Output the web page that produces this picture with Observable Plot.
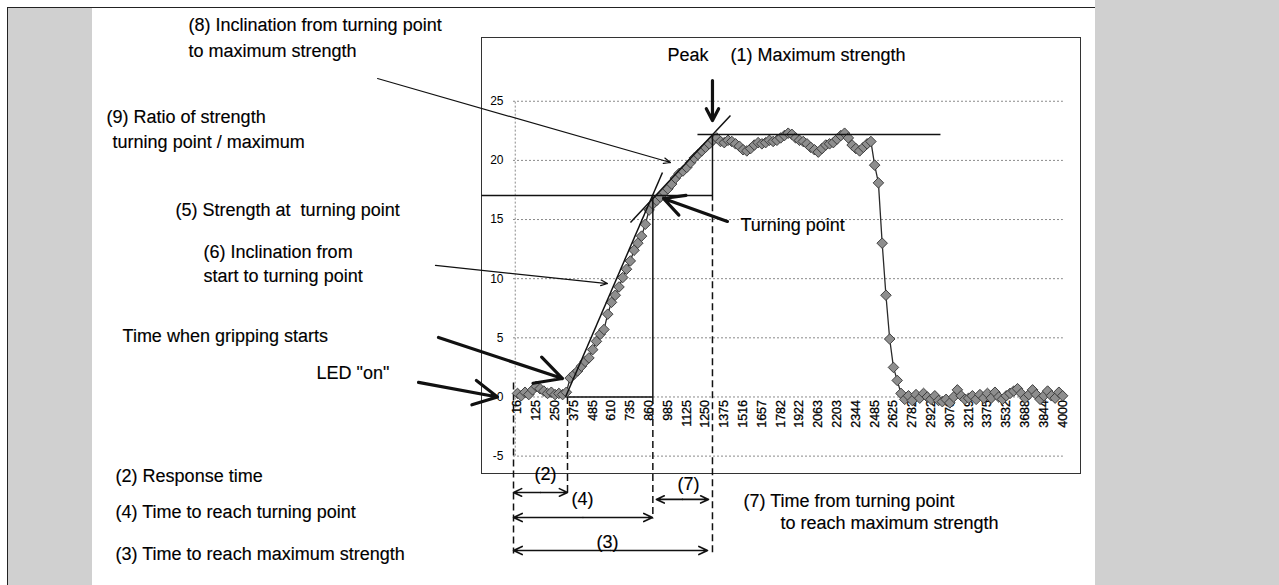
<!DOCTYPE html>
<html><head><meta charset="utf-8">
<script src="https://cdn.jsdelivr.net/npm/d3@7"></script>
<script src="https://cdn.jsdelivr.net/npm/@observablehq/plot@0.6"></script>
<style>
html,body{margin:0;padding:0;background:#fff;}
#wrap{position:relative;width:1279px;height:585px;overflow:hidden;background:#fff;}
.panel{position:absolute;background:#d0d0d0;}
#chart{position:absolute;left:0;top:0;}
</style></head><body>
<div id="wrap">
  <div class="panel" style="left:8px;top:8px;width:84px;height:577px"></div>
  <div class="panel" style="left:1095px;top:0;width:184px;height:585px"></div>
  <div style="position:absolute;left:7px;top:7px;width:1088px;height:0;border-top:1.5px solid #222"></div>
  <div style="position:absolute;left:7px;top:7px;width:0;height:578px;border-left:1.5px solid #222"></div>
  <div id="chart"></div>
</div>
<script>
// ---- data ----
const xTickLabels = ["16","125","250","375","485","610","735","860","985","1125","1250","1375","1516","1657","1782","1922","2063","2203","2344","2485","2625","2782","2922","3078","3219","3375","3532","3688","3844","4000"];
const yTicks = [-5, 0, 5, 10, 15, 20, 25];
const samplesPerLabel = 5; // a category label every 5th sample
const strength = [
  0.3,0.1,0.4,0.2,0.6,0.9,0.7,0.5,0.3,0.4,0.2,0.3,0.2,0.4,
  1.6,1.9,2.2,2.6,3.0,3.3,4.0,4.7,5.3,5.7,7.0,8.0,8.6,9.3,10.1,10.8,11.5,12.4,13.0,13.6,14.6,15.8,16.3,16.6,16.9,17.3,17.6,18.0,18.5,18.9,19.1,19.4,19.8,20.2,20.5,20.8,21.1,21.4,21.7,21.9,
  21.6,21.5,21.7,21.6,21.4,21.2,20.9,20.8,21.0,21.3,21.5,21.4,21.5,21.7,21.6,21.7,21.9,22.1,22.3,22.2,21.9,21.7,21.6,21.4,21.1,20.9,20.7,21.0,21.3,21.4,21.5,21.8,22.1,22.3,21.9,21.3,21.0,20.8,21.1,21.4,21.6,
  19.6,18.1,13.0,8.6,4.9,2.5,1.4,0.3,
  -0.2,0.1,-0.3,0.2,-0.1,0.3,0.0,-0.2,0.1,-0.3,-0.4,-0.2,-0.5,0.0,0.6,0.1,-0.2,-0.1,0.1,-0.2,0.2,-0.1,0.3,-0.1,0.4,0.0,-0.2,0.1,0.3,0.5,0.7,0.3,-0.1,0.2,0.6,0.2,-0.2,0.1,0.5,0.1,-0.1,0.4,0.1
];
const series = strength.map((v, k) => ({sample: k, strength: v}));

// annotation texts (anchor in chart units: sample index, strength)
const textsStart = [
  {label: "(8) Inclination from turning point", sample: -87.5, strength: 30.9},
  {label: "to maximum strength", sample: -87.5, strength: 28.7},
  {label: "(9) Ratio of strength", sample: -109.3, strength: 23.12},
  {label: "turning point / maximum", sample: -107.7, strength: 21.09},
  {label: "(5) Strength at  turning point", sample: -90.95, strength: 15.34},
  {label: "(6) Inclination from", sample: -83.5, strength: 11.79},
  {label: "start to turning point", sample: -83.5, strength: 9.68},
  {label: "Time when gripping starts", sample: -105.05, strength: 4.61},
  {label: "LED \"on\"", sample: -53.45, strength: 1.48},
  {label: "(2) Response time", sample: -106.9, strength: -7.23},
  {label: "(4) Time to reach turning point", sample: -106.9, strength: -10.27},
  {label: "(3) Time to reach maximum strength", sample: -106.9, strength: -13.82},
  {label: "Peak", sample: 39.9, strength: 28.44},
  {label: "(1) Maximum strength", sample: 56.65, strength: 28.44},
  {label: "Turning point", sample: 59.3, strength: 14.07},
  {label: "(7) Time from turning point", sample: 60.1, strength: -9.26},
  {label: "to reach maximum strength", sample: 69.95, strength: -11.12}
];
const textsMiddle = [
  {label: "(2)", sample: 7.45, strength: -7.06},
  {label: "(4)", sample: 17.3, strength: -9.17},
  {label: "(7)", sample: 45.5, strength: -7.9},
  {label: "(3)", sample: 23.95, strength: -12.81}
];
const thinPointers = [
  {x1: -37.23, y1: 26.92, x2: 40.69, y2: 19.82},
  {x1: -21.81, y1: 11.12, x2: 23.94, y2: 9.59}
];
const thickPointers = [
  {x1: -21.01, y1: 5.03, x2: 11.97, y2: 1.56},
  {x1: -26.33, y1: 1.23, x2: -5.32, y2: 0},
  {x1: 51.86, y1: 26.75, x2: 51.86, y2: 23.37},
  {x1: 55.85, y1: 14.84, x2: 38.83, y2: 16.78}
];
const solidLines = [
  {x1: 47.87, y1: 22.19, x2: 112.5, y2: 22.19},
  {x1: -9.575, y1: 17.03, x2: 51.86, y2: 17.03},
  {x1: 36.0, y1: 17.03, x2: 36.0, y2: 0},
  {x1: 51.86, y1: 22.19, x2: 51.86, y2: 16.6},
  {x1: 13.3, y1: 0, x2: 36.0, y2: 0}
];
const tangentLines = [
  {x1: 12.77, y1: 0, x2: 38.56, y2: 18.98},
  {x1: 30.05, y1: 14.75, x2: 56.65, y2: 23.8}
];
const dashedLines = [
  {x1: -1.06, y1: 1.23, x2: -1.06, y2: -13.23},
  {x1: 13.3, y1: 0, x2: 13.3, y2: -8.07},
  {x1: 36.0, y1: 0, x2: 36.0, y2: -10.27},
  {x1: 51.86, y1: 16.3, x2: 51.86, y2: -13.23}
];
const dimensionArrows = [
  {x1: -1.06, x2: 13.3, y: -8.07},
  {x1: -1.06, x2: 35.9, y: -10.19},
  {x1: 36.95, x2: 50.8, y: -8.66},
  {x1: -1.06, x2: 50.55, y: -12.98}
];
const gridFrom = -1.06, gridTo = 145.2;

// double-headed arrows: two halves from the middle outwards
const dimHalves = dimensionArrows.flatMap(d => {
  const m = (d.x1 + d.x2) / 2;
  return [{x1: m, x2: d.x1, y: d.y}, {x1: m, x2: d.x2, y: d.y}];
});

const font = "'Liberation Sans', Arial, sans-serif";
const chart = Plot.plot({
  width: 1279, height: 585,
  marginLeft: 481, marginRight: 199, marginTop: 37, marginBottom: 112,
  x: {type: "linear", domain: [-9.575, 149.75], axis: null},
  y: {type: "linear", domain: [-6.47, 30.39], axis: null},
  style: {background: "transparent", fontFamily: font, color: "#000"},
  marks: [
    Plot.frame({stroke: "#333", strokeWidth: 1}),
    Plot.ruleY(yTicks, {y: d => d, x1: gridFrom, x2: gridTo, stroke: "#8a8a8a", strokeWidth: 1, strokeDasharray: "2,2"}),
    Plot.ruleX([-0.6], {x: d => d, y1: -5, y2: 25, stroke: "#8a8a8a", strokeWidth: 1, strokeDasharray: "2,2"}),
    Plot.text(yTicks, {y: d => d, text: d => String(d), frameAnchor: "left", dx: 22, textAnchor: "end", fontSize: 12, fill: "#000"}),
    Plot.text(xTickLabels, {x: (d, i) => i * samplesPerLabel, y: () => 0, text: d => d, rotate: -90, textAnchor: "end", dy: 3, fontSize: 12.5, fill: "#000", stroke: "#000", strokeWidth: 0.3}),
    Plot.link(dashedLines, {x1: "x1", y1: "y1", x2: "x2", y2: "y2", stroke: "#111", strokeWidth: 1.5, strokeDasharray: "7,4"}),
    Plot.line(series, {x: "sample", y: "strength", stroke: "#2a2a2a", strokeWidth: 1.3}),
    Plot.dot(series, {x: "sample", y: "strength", symbol: "square", r: 4.2, rotate: 45, fill: "#8e8e8e", stroke: "#3a3a3a", strokeWidth: 0.9}),
    Plot.link(solidLines, {x1: "x1", y1: "y1", x2: "x2", y2: "y2", stroke: "#111", strokeWidth: 1.5}),
    Plot.link(tangentLines, {x1: "x1", y1: "y1", x2: "x2", y2: "y2", stroke: "#111", strokeWidth: 1.5}),
    Plot.arrow(dimHalves, {x1: "x1", y1: "y", x2: "x2", y2: "y", stroke: "#111", strokeWidth: 1.6, headLength: 9, headAngle: 50}),
    Plot.arrow(thinPointers, {x1: "x1", y1: "y1", x2: "x2", y2: "y2", stroke: "#111", strokeWidth: 1.2, headLength: 9, headAngle: 45}),
    Plot.arrow(thickPointers, {x1: "x1", y1: "y1", x2: "x2", y2: "y2", stroke: "#111", strokeWidth: 3.2, headLength: 14, headAngle: 55}),
    Plot.text(textsStart, {x: "sample", y: "strength", text: "label", textAnchor: "start", lineAnchor: "bottom", fontSize: 18, fill: "#000", stroke: "#000", strokeWidth: 0.15, ariaLabel: "annot"}),
    Plot.text(textsMiddle, {x: "sample", y: "strength", text: "label", textAnchor: "middle", lineAnchor: "bottom", fontSize: 18, fill: "#000", stroke: "#000", strokeWidth: 0.15, ariaLabel: "annot"})
  ]
});
document.getElementById("chart").appendChild(chart);
// the scanned figure is horizontally stretched: widen annotation glyphs around their anchors
chart.querySelectorAll('g[aria-label="annot"] text').forEach(t => {
  const tr = t.getAttribute("transform");
  if (tr) t.setAttribute("transform", tr + " scale(1.15,1)");
  else {
    const x = +t.getAttribute("x") || 0, y = +t.getAttribute("y") || 0;
    t.setAttribute("transform", `translate(${x},${y}) scale(1.15,1) translate(${-x},${-y})`);
  }
});
</script>
</body></html>
